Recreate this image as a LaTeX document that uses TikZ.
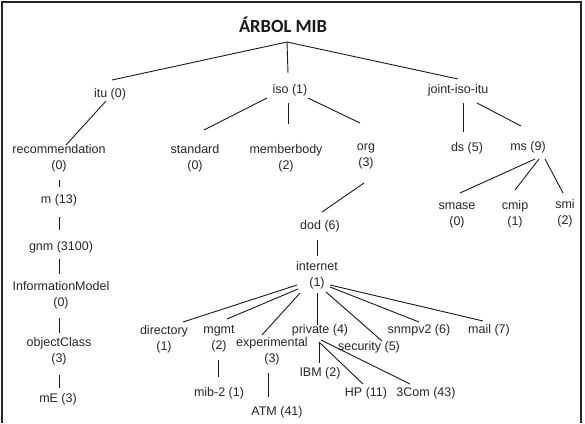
\documentclass[tikz,border=0pt]{standalone}
\usepackage{fontspec}
\setmainfont{Liberation Sans}
\newfontfamily\titlefont{Carlito}
\usetikzlibrary{calc}
\begin{document}
\begin{tikzpicture}[x=1pt,y=-1pt,
  lbl/.style={inner sep=0pt, align=center, text=black!85,
    font=\fontsize{12.5}{16}\selectfont},
  edge/.style={draw=black!90, line width=0.9pt},
  frame/.style={draw=black!85, line width=1.6pt}]
\useasboundingbox (0,0) rectangle (585,423);
\draw[frame] (2,423) -- (2,2) -- (581,2) -- (581,423);

\node[inner sep=0pt, font=\titlefont\bfseries\fontsize{18.5}{20}\selectfont, text=black!90] (title) at (283,25) {ÁRBOL MIB};
\coordinate (root) at (287,42);

\node[lbl] (itu) at (110,94) {itu (0)};
\node[lbl] (iso) at (290,90) {iso (1)};
\node[lbl] (joint) at (458,90) {joint-iso-itu};

\node[lbl] (rec) at (59,158.5) {recommendation\\(0)};
\node[lbl] (m) at (59,200) {m (13)};
\node[lbl] (gnm) at (61,247) {gnm (3100)};
\node[lbl] (infm) at (61,295.5) {InformationModel\\(0)};
\node[lbl] (objc) at (59,351.5) {objectClass\\(3)};
\node[lbl] (mE) at (58,399) {mE (3)};

\node[lbl] (standard) at (195,158) {standard\\(0)};
\node[lbl] (member) at (286,158) {memberbody\\(2)};
\node[lbl] (org) at (366,156) {org\\(3)};

\node[lbl] (ds) at (467,148) {ds (5)};
\node[lbl] (ms) at (528,147) {ms (9)};
\node[lbl] (smase) at (457,215) {smase\\(0)};
\node[lbl] (cmip) at (515,214) {cmip\\(1)};
\node[lbl] (smi) at (565,213) {smi\\(2)};

\node[lbl] (dod) at (320,226) {dod (6)};
\node[lbl] (internet) at (317,275) {internet\\(1)};

\node[lbl] (directory) at (164,339) {directory\\(1)};
\node[lbl] (mgmt) at (219,339) {mgmt\\(2)};
\node[lbl] (exp) at (272,351) {experimental\\(3)};
\node[lbl] (private) at (320,330) {private (4)};
\node[lbl] (security) at (369,347) {security (5)};
\node[lbl] (snmpv2) at (419,330) {snmpv2 (6)};
\node[lbl] (mail) at (489,330) {mail (7)};

\node[lbl] (mib2) at (219,393) {mib-2 (1)};
\node[lbl] (atm) at (277,412) {ATM (41)};
\node[lbl] (ibm) at (320,373) {IBM (2)};
\node[lbl] (hp) at (366,393) {HP (11)};
\node[lbl] (com3) at (426,393) {3Com (43)};

% top level
\draw[edge] (root) -- ($(itu)+(2,-14)$);
\draw[edge] (root) -- ($(iso)+(-2,-17)$);
\draw[edge] (root) -- ($(joint)+(0,-11)$);

% itu branch
\draw[edge] ($(itu)+(-4,7)$) -- ($(rec)+(7,-13.5)$);
\draw[edge] ($(rec)+(0,21.5)$) -- ($(m)+(0,-13)$);
\draw[edge] ($(m)+(0,17)$) -- ($(gnm)+(-2,-17)$);
\draw[edge] ($(gnm)+(-2,12)$) -- ($(infm)+(-2,-21.5)$);
\draw[edge] ($(infm)+(-2,22.5)$) -- ($(objc)+(0,-18.5)$);
\draw[edge] ($(objc)+(0,23.5)$) -- ($(mE)+(1,-11)$);

% iso branch
\draw[edge] ($(iso)+(-23,8)$) -- ($(standard)+(9,-28)$);
\draw[edge] ($(iso)+(-2,13)$) -- ($(member)+(2,-34)$);
\draw[edge] ($(iso)+(18,8)$) -- ($(org)+(-6,-33)$);
\draw[edge] ($(org)+(-2,27)$) -- ($(dod)+(2,-14)$);
\draw[edge] ($(dod)+(-3,14)$) -- ($(internet)+(0,-19)$);

% joint branch
\draw[edge] ($(joint)+(5,13)$) -- ($(ds)+(-4,-16)$);
\draw[edge] ($(joint)+(19,13)$) -- ($(ms)+(-7,-21)$);
\draw[edge] ($(ms)+(7,12)$) -- ($(smase)+(3,-22)$);
\draw[edge] ($(ms)+(11,12)$) -- ($(cmip)+(0,-24)$);
\draw[edge] ($(ms)+(17,12)$) -- ($(smi)+(-2,-20)$);

% internet children
\draw[edge] ($(internet)+(-20,10)$) -- ($(directory)+(19,-17)$);
\draw[edge] ($(internet)+(-19,14)$) -- ($(mgmt)+(8,-20)$);
\draw[edge] ($(internet)+(-17,18)$) -- ($(exp)+(-10,-16)$);
\draw[edge] ($(internet)+(0,18)$) -- ($(private)+(-3,-5)$);
\draw[edge] ($(internet)+(9,17)$) -- ($(security)+(13,-6)$);
\draw[edge] ($(internet)+(13,12)$) -- ($(snmpv2)+(0,-8)$);
\draw[edge] ($(internet)+(13,10)$) -- ($(mail)+(-6,-9)$);

\draw[edge] ($(mgmt)+(-1,21)$) -- ($(mib2)+(-1,-16)$);
\draw[edge] ($(exp)+(-4,22)$) -- ($(atm)+(-9,-15)$);
\draw[edge] ($(private)+(-1,12)$) -- ($(ibm)+(-1,-10)$);
\draw[edge] ($(private)+(-1,12)$) -- ($(hp)+(-3,-9)$);
\draw[edge] ($(private)+(1,10)$) -- ($(com3)+(-16,-9)$);
\end{tikzpicture}
\end{document}
